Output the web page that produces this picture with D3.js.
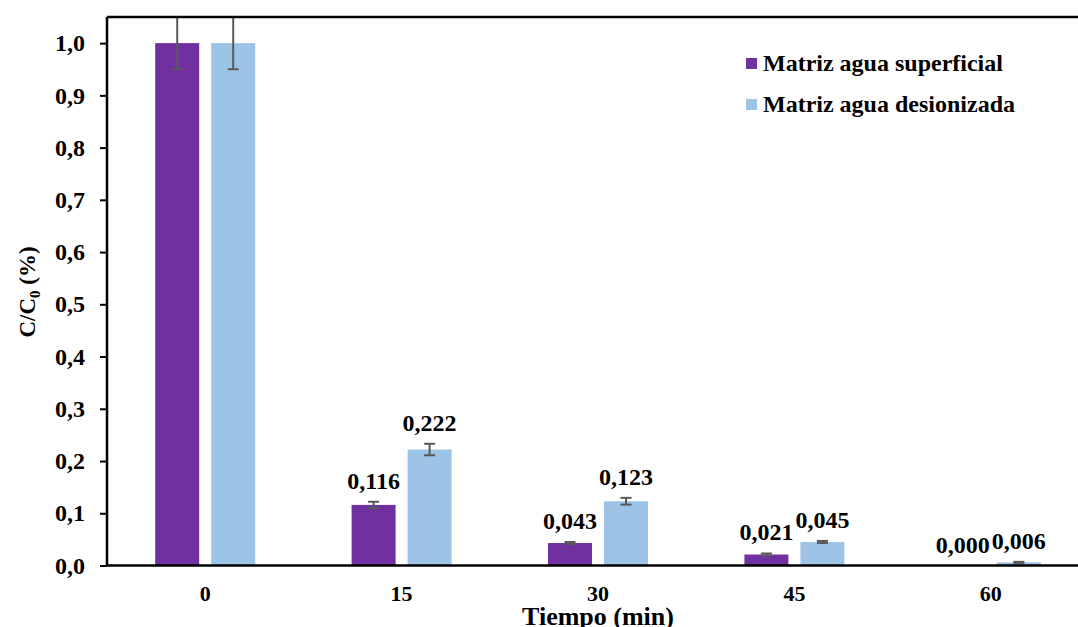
<!DOCTYPE html>
<html>
<head>
<meta charset="utf-8">
<script src="https://cdn.jsdelivr.net/npm/d3@7/dist/d3.min.js"></script>
<style>
  html, body { margin: 0; padding: 0; background: #fff; }
  svg { display: block; font-family: "Liberation Serif", "Times New Roman", serif; font-weight: bold; }
</style>
</head>
<body>
<svg id="chart" width="1078" height="627"></svg>
<script>
// Time points (min)
const categories = ["0", "15", "30", "45", "60"];
// Series names
const seriesNames = ["Matriz agua superficial", "Matriz agua desionizada"];
// C/C0 values per series
const superficial = [1.000, 0.116, 0.043, 0.021, 0.000];
const desionizada = [1.000, 0.222, 0.123, 0.045, 0.006];
// Standard deviations per series
const superficialErr = [0.05, 0.006, 0.002, 0.002, 0.000];
const desionizadaErr = [0.05, 0.011, 0.0065, 0.002, 0.001];
// Value labels as printed
const superficialLabels = ["", "0,116", "0,043", "0,021", "0,000"];
const desionizadaLabels = ["", "0,222", "0,123", "0,045", "0,006"];
// Y axis ticks
const yTicks = [0, 0.1, 0.2, 0.3, 0.4, 0.5, 0.6, 0.7, 0.8, 0.9, 1.0];

const colors = ["#7030A0", "#9DC3E6"];
const errColor = "#595959";
const serif = "Liberation Serif, Times New Roman, serif";

const svg = d3.select("#chart");
const plot = { left: 107, right: 1089, top: 17, bottom: 565.5 };

const x = d3.scaleBand().domain(categories).range([plot.left, plot.right]).padding(0);
const xs = d3.scaleBand().domain([0, 1]).range([-50, 50]).paddingInner(0.2143).paddingOuter(0);
const y = d3.scaleLinear().domain([0, 1.05]).range([plot.bottom, plot.top]);

const fmt = v => d3.format(".1f")(v).replace(".", ",");

const rows = [];
categories.forEach((c, i) => {
  rows.push({ c, s: 0, v: superficial[i], e: superficialErr[i], label: superficialLabels[i] });
  rows.push({ c, s: 1, v: desionizada[i], e: desionizadaErr[i], label: desionizadaLabels[i] });
});
const barX = d => x(d.c) + x.bandwidth() / 2 + xs(d.s);

// Bars
svg.append("g").selectAll("rect").data(rows).join("rect")
  .attr("x", barX)
  .attr("width", xs.bandwidth())
  .attr("y", d => y(d.v))
  .attr("height", d => y(0) - y(d.v))
  .attr("fill", d => colors[d.s]);

// Error bars
const eg = svg.append("g").attr("stroke", errColor).attr("stroke-width", 2);
rows.filter(d => d.e > 0).forEach(d => {
  const cx = barX(d) + xs.bandwidth() / 2;
  const top = Math.max(y(d.v + d.e), plot.top);
  const bot = y(Math.max(d.v - d.e, 0));
  eg.append("line").attr("x1", cx).attr("x2", cx).attr("y1", top).attr("y2", bot);
  eg.append("line").attr("x1", cx - 5.5).attr("x2", cx + 5.5).attr("y1", top).attr("y2", top);
  eg.append("line").attr("x1", cx - 5.5).attr("x2", cx + 5.5).attr("y1", bot).attr("y2", bot);
});

// Value labels
svg.append("g").selectAll("text").data(rows.filter(d => d.label)).join("text")
  .attr("x", d => barX(d) + xs.bandwidth() / 2)
  .attr("y", d => y(d.v + d.e) - 13)
  .attr("text-anchor", "middle")
  .attr("font-size", 24)
  .attr("fill", "#000")
  .text(d => d.label);

// Y axis
const yAxis = svg.append("g").attr("transform", `translate(${plot.left},0)`)
  .call(d3.axisLeft(y).tickValues(yTicks).tickSize(7).tickSizeOuter(0).tickFormat(fmt));
yAxis.select(".domain").remove();
yAxis.selectAll(".tick line").attr("stroke", "#000").attr("stroke-width", 2);
yAxis.selectAll(".tick text").attr("x", -22).attr("font-size", 24)
  .attr("font-family", serif).attr("font-weight", "bold").attr("fill", "#000");

// X axis labels
const xAxis = svg.append("g").attr("transform", `translate(0,${plot.bottom})`)
  .call(d3.axisBottom(x).tickSize(0).tickPadding(20));
xAxis.select(".domain").remove();
xAxis.selectAll(".tick text").attr("font-size", 22)
  .attr("font-family", serif).attr("font-weight", "bold").attr("fill", "#000");

// Frame lines: left, bottom, top
const frame = svg.append("g").attr("stroke", "#000").attr("stroke-width", 2.5).attr("fill", "none");
frame.append("line").attr("x1", plot.left).attr("x2", plot.left).attr("y1", plot.top).attr("y2", plot.bottom);
frame.append("line").attr("x1", plot.left).attr("x2", plot.right).attr("y1", plot.bottom).attr("y2", plot.bottom);
frame.append("line").attr("x1", plot.left).attr("x2", plot.right).attr("y1", plot.top).attr("y2", plot.top);

// Axis titles
svg.append("text")
  .attr("x", (plot.left + plot.right) / 2)
  .attr("y", 625)
  .attr("text-anchor", "middle")
  .attr("font-size", 26)
  .text("Tiempo (min)");

const yt = svg.append("text")
  .attr("transform", "translate(35,292) rotate(-90)")
  .attr("text-anchor", "middle")
  .attr("font-size", 23);
yt.append("tspan").text("C/C");
yt.append("tspan").attr("font-size", 15).attr("dy", 5).text("0");
yt.append("tspan").attr("dy", -5).text(" (%)");

// Legend
const legend = svg.append("g").attr("transform", "translate(746,58)");
seriesNames.forEach((name, i) => {
  const g = legend.append("g").attr("transform", `translate(0,${i * 41})`);
  g.append("rect").attr("width", 11).attr("height", 11).attr("fill", colors[i]);
  g.append("text").attr("x", 17).attr("y", 13).attr("font-size", 24).text(name);
});
</script>
</body>
</html>
